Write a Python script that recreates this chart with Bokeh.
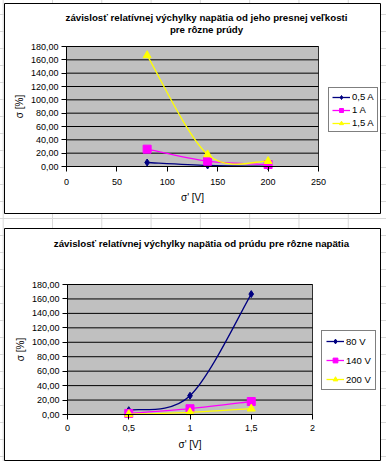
from bokeh.plotting import figure
from bokeh.models import Legend, LegendItem, FixedTicker, ColumnDataSource, Label, Spacer
from bokeh.layouts import column, row
from bokeh.embed import file_html
from bokeh.resources import INLINE

# ---- data ----
VOLTAGES = [80, 140, 200]          # sigma' [V]
CURRENTS = [0.5, 1.0, 1.5]         # current [A]

SIGMA_05A = [6.0, 1.5, 0.3]
SIGMA_1A = [26.0, 8.0, 3.0]
SIGMA_15A = [166.7, 18.0, 8.0]

SIGMA_80V = [6.0, 26.0, 166.7]
SIGMA_140V = [1.5, 8.0, 18.0]
SIGMA_200V = [0.3, 3.0, 8.0]

TOP_NAMES = ["0,5 A", "1 A", "1,5 A"]
BOT_NAMES = ["80 V", "140 V", "200 V"]

Y_TICKS = [0, 20, 40, 60, 80, 100, 120, 140, 160, 180]
Y_LABELS = ["0,00", "20,00", "40,00", "60,00", "80,00", "100,00", "120,00", "140,00", "160,00", "180,00"]
X1_TICKS = [0, 50, 100, 150, 200, 250]
X1_LABELS = ["0", "50", "100", "150", "200", "250"]
X2_TICKS = [0, 0.5, 1, 1.5, 2]
X2_LABELS = ["0", "0,5", "1", "1,5", "2"]

TITLE_TOP = ["závislosť relatívnej výchylky napätia od jeho presnej veľkosti", "pre rôzne prúdy"]
TITLE_BOT = ["závislosť relatívnej výchylky napätia od prúdu pre rôzne napätia"]

COLORS = ["#000080", "#FF00FF", "#FFFF00"]
MARKERS = ["diamond", "square", "triangle"]
MSIZES = [7, 8, 8]
FONT = "Liberation Sans"


def smooth(xs, ys):
    """Bezier control points (Catmull-Rom style, like Excel's smoothed line)."""
    n = len(xs)
    d = dict(x0=[], y0=[], x1=[], y1=[], cx0=[], cy0=[], cx1=[], cy1=[])
    for i in range(n - 1):
        im, i2 = max(i - 1, 0), min(i + 2, n - 1)
        d["x0"].append(xs[i]); d["y0"].append(ys[i])
        d["x1"].append(xs[i + 1]); d["y1"].append(ys[i + 1])
        d["cx0"].append(xs[i] + (xs[i + 1] - xs[im]) / 6.0)
        d["cy0"].append(ys[i] + (ys[i + 1] - ys[im]) / 6.0)
        d["cx1"].append(xs[i + 1] - (xs[i2] - xs[i]) / 6.0)
        d["cy1"].append(ys[i + 1] - (ys[i2] - ys[i]) / 6.0)
    return d


def chart(W, H, pa, x_ticks, x_labels, titles, xs, series, names, legend_xy, legend_cfg,
          xl_standoff, xa_standoff):
    # pa = plot area (left, right, top, bottom) in canvas pixels; the frame is the whole chart box
    l, r, t, b = pa
    x_end, y_end = x_ticks[-1], Y_TICKS[-1]
    kx = (r - l) / x_end
    ky = (b - t) / y_end
    p = figure(width=W, height=H, output_backend="svg", toolbar_location=None,
               x_range=(-l / kx, x_end + (W - r) / kx),
               y_range=(-(H - b) / ky, y_end + t / ky),
               min_border=0, background_fill_color="white", border_fill_color="white")
    p.outline_line_color = "black"
    p.outline_line_width = 1
    p.grid.visible = False

    # plot area (grey) and horizontal grid lines
    p.quad(left=x_ticks[0], right=x_end, bottom=Y_TICKS[0], top=y_end,
           fill_color="#C0C0C0", line_color="#303030", line_width=1)
    p.segment(x0=[x_ticks[0]] * len(Y_TICKS), x1=[x_end] * len(Y_TICKS), y0=Y_TICKS, y1=Y_TICKS,
              line_color="black", line_width=1)

    for ax, ticks, labels, bounds in ((p.xaxis[0], x_ticks, x_labels, (x_ticks[0], x_end)),
                                      (p.yaxis[0], Y_TICKS, Y_LABELS, (Y_TICKS[0], y_end))):
        ax.fixed_location = 0
        ax.bounds = bounds
        ax.ticker = FixedTicker(ticks=ticks)
        ax.major_label_overrides = {tk: lb for tk, lb in zip(ticks, labels)}
        ax.minor_tick_line_color = None
        ax.major_tick_in = 0
        ax.major_tick_out = 5
        ax.axis_line_color = "black"
        ax.major_tick_line_color = "black"
        ax.major_label_text_font = FONT
        ax.major_label_text_font_size = "9px"
        ax.major_label_text_color = "black"
        ax.axis_label_text_font = FONT
        ax.axis_label_text_font_size = "10px"
        ax.axis_label_text_font_style = "normal"
        ax.axis_label_text_color = "black"
    p.xaxis.axis_label = "σ' [V]"
    p.yaxis.axis_label = "σ [%]"
    p.xaxis.major_label_standoff = xl_standoff
    p.xaxis.axis_label_standoff = xa_standoff
    p.yaxis.major_label_standoff = 3
    p.yaxis.axis_label_standoff = 3

    items = []
    for ys, name, c, m, s in zip(series, names, COLORS, MARKERS, MSIZES):
        src = ColumnDataSource(smooth(xs, ys))
        p.bezier(x0="x0", y0="y0", x1="x1", y1="y1", cx0="cx0", cy0="cy0", cx1="cx1", cy1="cy1",
                 source=src, line_color=c, line_width=1.3)
        # zero-length line at the first point: only serves as the legend's line sample
        leg_line = p.line(x=[xs[0], xs[0]], y=[ys[0], ys[0]], line_color=c, line_width=1.3)
        sc = p.scatter(x=xs, y=ys, marker=m, size=s, fill_color=c, line_color=c)
        items.append(LegendItem(label=name, renderers=[leg_line, sc]))

    legend = Legend(items=items, location=legend_xy, **legend_cfg)
    legend.border_line_color = "black"
    legend.border_line_width = 1
    legend.background_fill_color = "white"
    legend.background_fill_alpha = 1
    legend.label_text_font = FONT
    legend.label_text_font_size = "9.5px"
    legend.label_text_color = "black"
    legend.margin = 0
    p.add_layout(legend)

    # titles: (text, x centre, y centre measured from the top of the chart box)
    for text, cx, cy in titles:
        p.add_layout(Label(x=cx, y=H - cy, x_units="screen", y_units="screen", text=text,
                           text_align="center", text_baseline="middle", text_font=FONT,
                           text_font_size="9.7px", text_font_style="bold", text_color="black"))
    return p


p1 = chart(377, 211, (62, 314, 43, 163), X1_TICKS, X1_LABELS,
           [(TITLE_TOP[0], 202, 14), (TITLE_TOP[1], 202, 26)],
           VOLTAGES, [SIGMA_05A, SIGMA_1A, SIGMA_15A], TOP_NAMES, (324, 82),
           dict(glyph_width=18, glyph_height=10, label_height=10, label_width=10,
                spacing=2, padding=3, label_standoff=2),
           7, 4)
p2 = chart(377, 233, (63, 308, 56, 186), X2_TICKS, X2_LABELS,
           [(TITLE_BOT[0], 197, 15)],
           CURRENTS, [SIGMA_80V, SIGMA_140V, SIGMA_200V], BOT_NAMES, (317, 71),
           dict(glyph_width=18, glyph_height=12, label_height=12, label_width=10,
                spacing=7, padding=4, label_standoff=2),
           5, 5)

layout = column(
    Spacer(width=386, height=3),
    row(Spacer(width=4, height=211), p1),
    Spacer(width=386, height=14),
    row(Spacer(width=4, height=233), p2),
    styles={
        "background-color": "white",
        "background-image": "linear-gradient(#d8d8d8 1px, transparent 1px), linear-gradient(90deg, #d8d8d8 1px, transparent 1px)",
        "background-size": "49.3px 17px",
        "background-position": "2.7px 14px",
    })

open("out.html", "w").write(file_html(layout, INLINE))
